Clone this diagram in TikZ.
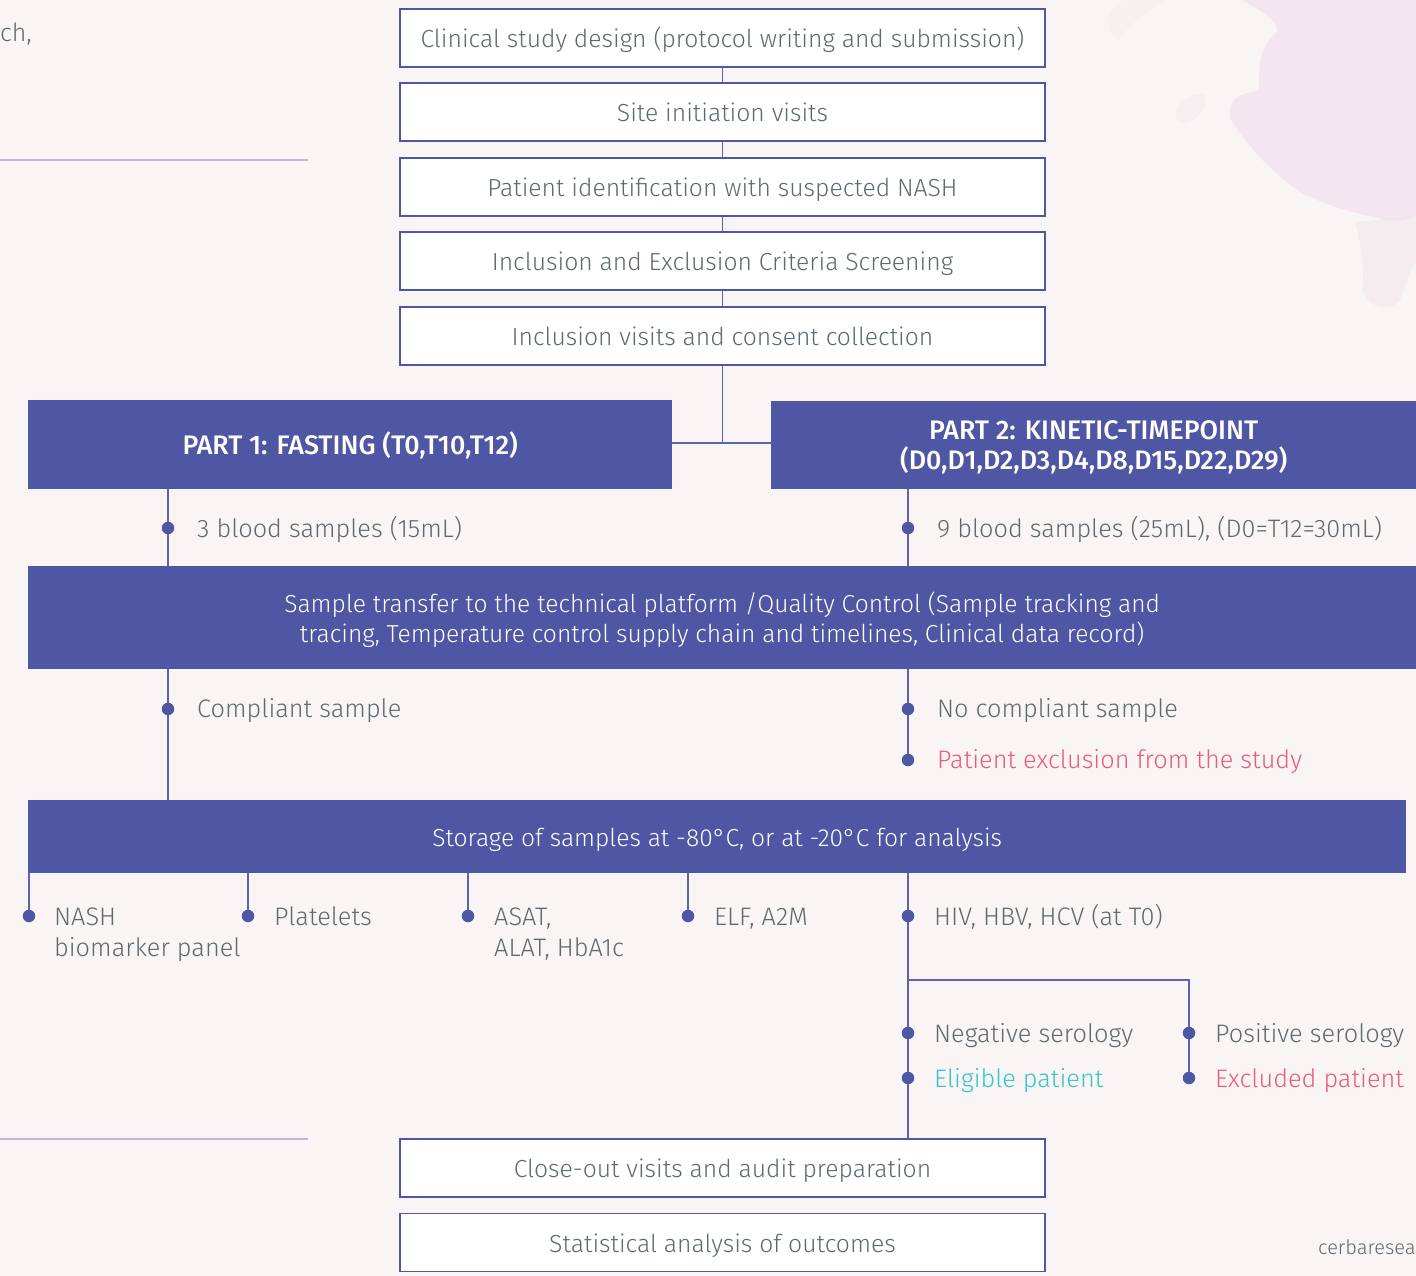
\documentclass[tikz,border=0pt]{standalone}
\usepackage{fontspec}
\setmainfont{Fira Sans}[UprightFont=* Light, BoldFont=* Medium]
\definecolor{pur}{HTML}{4F56A4}
\definecolor{conncol}{HTML}{5E63AF}
\definecolor{bg}{HTML}{F9F5F4}
\definecolor{txt}{HTML}{5F6A70}
\definecolor{pinkc}{HTML}{EC5A7C}
\definecolor{cyanc}{HTML}{33C5CF}
\definecolor{lline}{HTML}{BFB8DA}
\definecolor{blob}{HTML}{F2E2EC}
\begin{document}
\begin{tikzpicture}[x=1pt,y=-1pt,
  box/.style={draw=pur, line width=1.3pt, fill=white, minimum width=645pt, minimum height=58pt,
    inner sep=0pt, text=txt, font=\fontsize{24.7}{30}\selectfont, text height=19pt, text depth=0pt},
  bar/.style={fill=pur, text=white, inner sep=0pt, anchor=north west, align=center,
    text height=19pt, text depth=0pt},
  twoline/.style={text height=49pt},
  barfont/.style={font=\fontsize{24.6}{30}\selectfont},
  partfont/.style={font=\bfseries\fontsize{26.8}{30}\selectfont},
  conn/.style={draw=conncol, line width=1.3pt},
  dot/.style={circle, fill=pur, minimum size=12.5pt, inner sep=0pt},
  lbl/.style={text=txt, font=\fontsize{25.3}{31}\selectfont, inner sep=0pt, anchor=base west, align=left},
]
\useasboundingbox (0,0) rectangle (1416,1276);
\clip (0,0) rectangle (1416,1276);
\fill[bg] (0,0) rectangle (1416,1276);

% watercolor blob
\fill[blob, opacity=0.75] (1242,0) .. controls (1262,12) and (1280,22) .. (1277,32)
  .. controls (1262,45) and (1258,60) .. (1259,90)
  .. controls (1240,95) and (1228,96) .. (1230,118)
  .. controls (1250,150) and (1270,170) .. (1300,192)
  .. controls (1325,205) and (1350,212) .. (1378,218)
  .. controls (1390,222) and (1400,222) .. (1416,216)
  -- (1416,0) -- cycle;
\fill[blob, opacity=0.45] (1355,222) .. controls (1362,250) and (1365,270) .. (1362,290)
  .. controls (1370,310) and (1390,312) .. (1400,300)
  .. controls (1405,285) and (1410,270) .. (1416,262) -- (1416,216) -- cycle;
\fill[blob, opacity=0.25] (1112,35) .. controls (1102,20) and (1112,5) .. (1125,0)
  -- (1165,0) .. controls (1158,8) and (1140,12) .. (1118,40) -- cycle;
\fill[blob, opacity=0.3] (1175,112) .. controls (1178,100) and (1200,90) .. (1205,96)
  .. controls (1208,110) and (1190,128) .. (1178,122) -- cycle;

% decorative side lines and clipped texts
\draw[lline, line width=2pt] (0,160.5) -- (308,160.5);
\draw[lline, line width=2pt] (0,1138.5) -- (308,1138.5);
\node[lbl, font=\fontsize{25}{30}\selectfont] (ch) at (0,42) {ch,};
\node[lbl, font=\fontsize{20}{24}\selectfont] (web) at (1318,1254) {cerbaresea};

% top boxes
\node[box] (b1) at (722.5,38) {Clinical study design (protocol writing and submission)};
\node[box] (b2) at (722.5,112) {Site initiation visits};
\node[box] (b3) at (722.5,187) {Patient identification with suspected NASH};
\node[box] (b4) at (722.5,261) {Inclusion and Exclusion Criteria Screening};
\node[box] (b5) at (722.5,336) {Inclusion visits and consent collection};
\draw[conn] (b1) -- (b2);
\draw[conn] (b2) -- (b3);
\draw[conn] (b3) -- (b4);
\draw[conn] (b4) -- (b5);

% parts
\node[bar, partfont, minimum width=644pt, minimum height=89pt] (p1) at (28,400) {PART 1: FASTING (T0,T10,T12)};
\node[bar, partfont, twoline, minimum width=645pt, minimum height=88pt] (p2) at (771,401) {PART 2: KINETIC-TIMEPOINT\\(D0,D1,D2,D3,D4,D8,D15,D22,D29)};
\coordinate (j) at (722.5,443);
\draw[conn] (b5) -- (j);
\draw[conn] (p1.east |- j) -- (p2.west |- j);

% sample transfer bar
\node[bar, barfont, twoline, minimum width=1388pt, minimum height=103pt] (st) at (28,566)
  {Sample transfer to the technical platform /Quality Control (Sample tracking and\\tracing, Temperature control supply chain and timelines, Clinical data record)};

% storage bar
\node[bar, barfont, minimum width=1378pt, minimum height=73pt] (sto) at (28,800)
  {Storage of samples at -80°C, or at -20°C for analysis};

% bottom boxes
\node[box] (co) at (722.5,1168) {Close-out visits and audit preparation};
\node[box] (sa) at (722.5,1242.5) {Statistical analysis of outcomes};

% dot positions
\coordinate (d1) at (168,528);
\coordinate (d2) at (908,528);
\coordinate (d3) at (168,709);
\coordinate (d4) at (908,709);
\coordinate (d5) at (908,760);
\coordinate (e1) at (29,916);
\coordinate (e2) at (248,916);
\coordinate (e3) at (468,916);
\coordinate (e4) at (688,916);
\coordinate (e5) at (908,916);
\coordinate (f1) at (908,1033);
\coordinate (f2) at (908,1078);
\coordinate (g1) at (1189,1033);
\coordinate (g2) at (1189,1078);
\coordinate (k) at (1189,980);

% connectors
\draw[conn] (d1 |- p1.south) -- (d1 |- st.north);
\draw[conn] (d2 |- p2.south) -- (d2 |- st.north);
\draw[conn] (d3 |- st.south) -- (d3 |- sto.north);
\draw[conn] (d4 |- st.south) -- (d5);
\draw[conn] (e1 |- sto.south) -- (e1);
\draw[conn] (e2 |- sto.south) -- (e2);
\draw[conn] (e3 |- sto.south) -- (e3);
\draw[conn] (e4 |- sto.south) -- (e4);
\draw[conn] (e5 |- sto.south) -- (e5 |- co.north);
\draw[conn] (e5 |- k) -- (k) -- (g2);

% dot markers
\foreach \p in {d1,d2,d3,d4,d5,e1,e2,e3,e4,e5,f1,f2,g1,g2}
  \node[dot] (m\p) at (\p) {};

% labels
\node[lbl] (t1) at (197,537) {3 blood samples (15mL)};
\node[lbl] (t2) at (937,537) {9 blood samples (25mL), (D0=T12=30mL)};
\node[lbl] (t3) at (197,717) {Compliant sample};
\node[lbl] (t4) at (937,717) {No compliant sample};
\node[lbl, text=pinkc] (t5) at (937,768) {Patient exclusion from the study};
\node[lbl] (u1) at (54,956) {NASH\\biomarker panel};
\node[lbl] (u2) at (274,925) {Platelets};
\node[lbl] (u3) at (494,956) {ASAT,\\ALAT, HbA1c};
\node[lbl] (u4) at (714,925) {ELF, A2M};
\node[lbl] (u5) at (934,925) {HIV, HBV, HCV (at T0)};
\node[lbl] (v1) at (934,1042) {Negative serology};
\node[lbl, text=cyanc] (v2) at (934,1087) {Eligible patient};
\node[lbl] (w1) at (1215,1042) {Positive serology};
\node[lbl, text=pinkc] (w2) at (1215,1087) {Excluded patient};
\end{tikzpicture}
\end{document}
